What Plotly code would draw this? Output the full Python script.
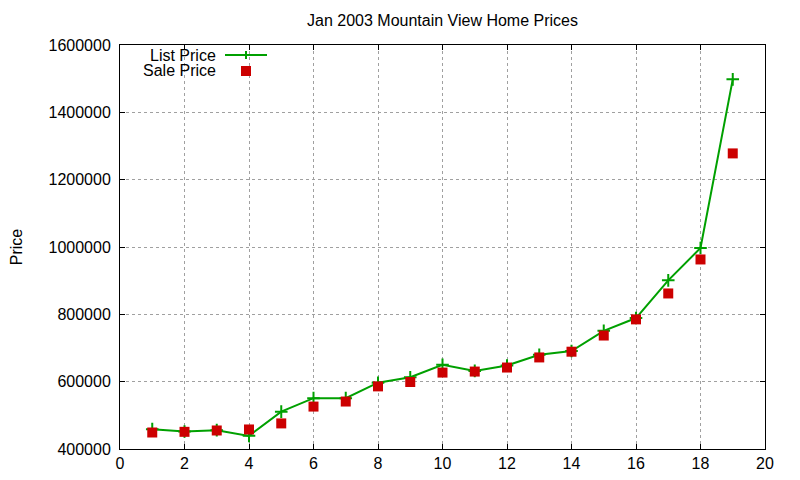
import plotly.graph_objects as go

# ---- data ----
listing = list(range(1, 20))
list_price = [459000, 452000, 456000, 439000, 511000, 551000, 551000, 597000, 613000,
              650000, 632000, 648000, 680000, 691000, 751000, 789000, 901000, 997000, 1498000]
sale_price = [449000, 451000, 455000, 458000, 476000, 526000, 541000, 586000, 599000,
              627000, 630000, 642000, 672000, 689000, 737000, 785000, 862000, 963000, 1278000]
x_ticks = list(range(0, 21, 2))
y_ticks = list(range(400000, 1600001, 200000))
title_text = "Jan 2003 Mountain View Home Prices"
series_names = ["List Price", "Sale Price"]

GREEN = "#00a000"
RED = "#cc0000"
FONT = "Liberation Sans, Arial, sans-serif"

fig = go.Figure()
fig.add_trace(go.Scatter(
    x=listing, y=list_price, name=series_names[0], mode="lines+markers",
    line=dict(color=GREEN, width=2),
    marker=dict(symbol="cross-thin", size=9, line=dict(color=GREEN, width=2)),
    showlegend=False))
fig.add_trace(go.Scatter(
    x=listing, y=sale_price, name=series_names[1], mode="markers",
    marker=dict(symbol="square", size=10, color=RED, line=dict(width=0)),
    showlegend=False))

OFF = 8  # page body margin
W, H = 800 - 2 * OFF, 480 - 2 * OFF
# plot area in window pixels
PL, PR, PT, PB = 120, 765, 45, 449
L = PL - OFF
T = PT - OFF
R = W - (PR - OFF)
B = H - (PB - OFF)
pw, ph = PR - PL, PB - PT

def px(xw):
    return (xw - PL) / pw

def py(yw):
    return (PB - yw) / ph

# manual gnuplot-style legend (text left of sample)
leg_text_right = 218
leg_rows = [55, 71]
for name, yy in zip(series_names, leg_rows):
    fig.add_annotation(xref="paper", yref="paper", x=px(leg_text_right), y=py(yy),
                       text=name, showarrow=False, xanchor="right", yanchor="middle",
                       font=dict(family=FONT, size=16, color="black"))
shapes = []
shapes.append(dict(type="line", xref="paper", yref="paper",
                   x0=px(225), x1=px(267), y0=py(55), y1=py(55),
                   line=dict(color=GREEN, width=2)))
shapes.append(dict(type="line", xref="paper", yref="paper",
                   x0=px(246), x1=px(246), y0=py(51), y1=py(59),
                   line=dict(color=GREEN, width=2)))
shapes.append(dict(type="rect", xref="paper", yref="paper",
                   x0=px(241), x1=px(251), y0=py(66), y1=py(76),
                   fillcolor=RED, line=dict(width=0)))
fig.update_layout(shapes=shapes)

axis_common = dict(
    showline=True, linecolor="black", linewidth=1, mirror="ticks",
    ticks="inside", ticklen=5, tickcolor="black", tickwidth=1,
    showgrid=True, gridcolor="#a0a0a0", griddash="dot", gridwidth=1,
    zeroline=False, tickfont=dict(family=FONT, size=16, color="black"),
    automargin=False,
)
fig.update_xaxes(range=[0, 20], tickvals=x_ticks, ticktext=[str(v) for v in x_ticks],
                 ticklabelstandoff=0, **axis_common)
fig.update_yaxes(range=[400000, 1600000], tickvals=y_ticks,
                 ticktext=[str(v) for v in y_ticks], ticklabelstandoff=5,
                 title=dict(text="Price", font=dict(family=FONT, size=16, color="black"),
                            standoff=37),
                 **axis_common)

fig.update_layout(
    width=W, height=H, autosize=False,
    margin=dict(l=L, r=R, t=T, b=B, pad=0),
    paper_bgcolor="white", plot_bgcolor="white",
    title=dict(text=title_text, x=0.5, xref="paper", xanchor="center",
               y=1 - (20 - OFF) / H, yref="container", yanchor="middle",
               font=dict(family=FONT, size=16, color="black")),
    font=dict(family=FONT, size=16, color="black"),
)

fig.write_html("out.html")
